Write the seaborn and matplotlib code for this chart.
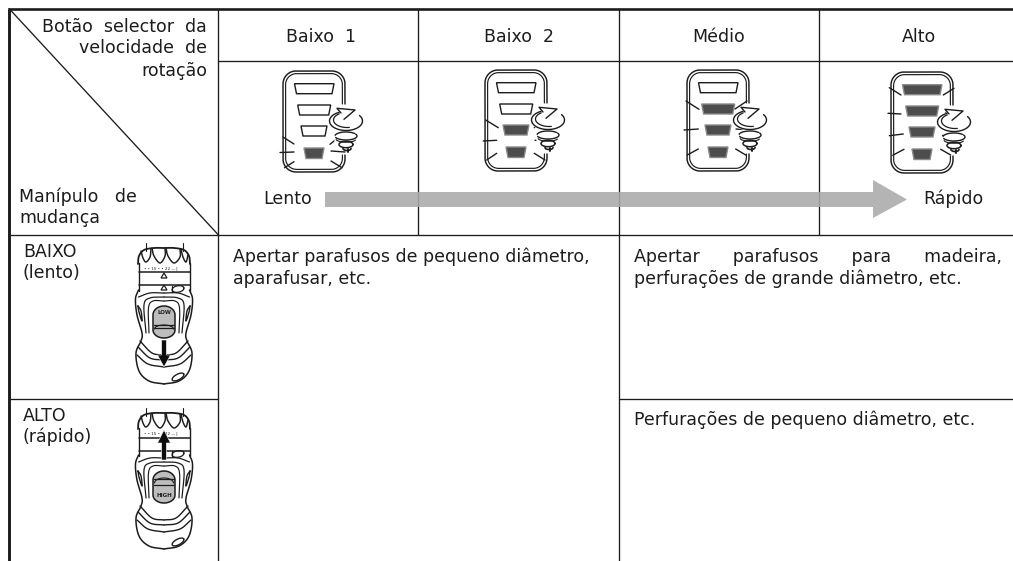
import numpy as np
import pandas as pd
import matplotlib
matplotlib.use("Agg")
import matplotlib.pyplot as plt
from matplotlib.patches import Polygon
import seaborn as sns

# ---- content -------------------------------------------------------------
speed_labels = ["Baixo  1", "Baixo  2", "Médio", "Alto"]
lit_bars = [1, 2, 3, 4]
corner_top = ["Botão  selector  da", "velocidade  de", "rotação"]
corner_bottom = ["Manípulo   de", "mudança"]
arrow_labels = ["Lento", "Rápido"]
gear_labels = [["BAIXO", "(lento)"], ["ALTO", "(rápido)"]]
gear_switch = ["LOW", "HIGH"]
use_left = ["Apertar parafusos de pequeno diâmetro,", "aparafusar, etc."]
use_low = ["Apertar      parafusos      para      madeira,", "perfurações de grande diâmetro, etc."]
use_high = ["Perfurações de pequeno diâmetro, etc."]

# ---- layout --------------------------------------------------------------
INK = "#1c1c1c"
FS = 12.5
sns.set_theme(style="white")
plt.rcParams["font.family"] = ["DejaVu Sans"]

fig = plt.figure(figsize=(10.13, 5.61), dpi=100)
ax = fig.add_axes([0, 0, 1, 1])

L, T, B, R = 9, 8.5, 561, 1013
X = [218, 418, 619, 819]
Y = [60.5, 234.5, 398.5]
thin = [((X[0], T), (X[0], B)), ((X[2], T), (X[2], B)),
        ((X[1], T), (X[1], Y[1])), ((X[3], T), (X[3], Y[1])),
        ((X[0], Y[0]), (R, Y[0])), ((L, Y[1]), (R, Y[1])),
        ((L, Y[2]), (X[0], Y[2])), ((X[2], Y[2]), (R, Y[2])),
        ((L, T), (X[0], Y[1]))]
rows = []
for i, (a, b) in enumerate(thin):
    rows += [dict(seg=i, x=a[0], y=a[1]), dict(seg=i, x=b[0], y=b[1])]
sns.lineplot(data=pd.DataFrame(rows), x="x", y="y", units="seg", estimator=None,
             color=INK, lw=0.95, ax=ax, legend=False, sort=False)
ax.plot([L, L], [T, B], color=INK, lw=2.1, solid_capstyle="butt")
ax.plot([L - 1, R], [T, T], color=INK, lw=1.9, solid_capstyle="butt")
ax.set_xlim(0, 1013)
ax.set_ylim(561, 0)
ax.axis("off")


def line(pts, lw=0.9, c=INK, z=3, **kw):
    p = np.asarray(pts, float)
    ax.plot(p[:, 0], p[:, 1], color=c, lw=lw, zorder=z, solid_capstyle="round",
            solid_joinstyle="round", **kw)


def arc(cx, cy, rx, ry, a0, a1, n=40, rot=0.0):
    t = np.radians(np.linspace(a0, a1, n))
    x, y = rx * np.cos(t), ry * np.sin(t)
    r = np.radians(rot)
    return np.c_[cx + x * np.cos(r) - y * np.sin(r), cy + x * np.sin(r) + y * np.cos(r)]


def smooth(pts, n=12):
    p = np.asarray(pts, float)
    p = np.vstack([2 * p[0] - p[1], p, 2 * p[-1] - p[-2]])
    out = []
    for i in range(1, len(p) - 2):
        for t in np.linspace(0, 1, n, endpoint=False):
            out.append(0.5 * ((2 * p[i]) + (p[i + 1] - p[i - 1]) * t
                              + (2 * p[i - 1] - 5 * p[i] + 4 * p[i + 1] - p[i + 2]) * t**2
                              + (3 * p[i] - p[i - 1] - 3 * p[i + 1] + p[i + 2]) * t**3))
    out.append(p[-2])
    return np.array(out)


def txt(x, y, s, ha="left", fs=FS, **kw):
    ax.text(x, y, s, ha=ha, va="baseline", fontsize=fs, color=INK, zorder=5, **kw)


# ---- LED icons -----------------------------------------------------------
BARS = [(11.5, 51, 12.7, 22.7), (14.7, 47.7, 34, 44), (18, 44, 55, 65), (21, 41, 77, 87.5)]
RAYS = {
    1: [((0, 66), (11, 73)), ((-3, 81.5), (11, 81)), ((1.5, 96.7), (11, 90.7)),
        ((47, 73.3), (55, 66.7)), ((48, 80), (62, 81)), ((48, 90), (59, 96.7))],
    2: [((0.7, 50), (13.3, 57.7)), ((49.3, 57.7), (58.3, 50)), ((-1.7, 71), (11.7, 70.3)),
        ((50, 70.3), (63.3, 71)), ((11.7, 83.3), (1.7, 90)), ((49.3, 83.3), (60, 90))],
    3: [((-1, 31), (12, 39.3)), ((48, 39), (60, 31)), ((-3, 60), (11.3, 59)),
        ((49, 59), (63, 60)), ((11.3, 79), (0.3, 85)), ((48.7, 79), (58.7, 85))],
    4: [((-1.7, 15.7), (10, 23)), ((52.3, 23), (63, 16.3)), ((-3, 41.3), (10, 42)),
        ((54, 39.7), (62, 39.7)), ((-1.7, 63.7), (12.3, 62)), ((50.7, 63), (64, 63)),
        ((13, 77.3), (1.7, 83.3)), ((49.7, 77.3), (59.7, 83))],
}
ICON_ORIGIN = [(283, 71), (485, 70), (687, 70), (891, 72)]


def frame(x0, y0, inset, r):
    w, h = 62 - inset, 101 - inset
    a = inset
    pts = np.vstack([
        [[w, 33]],
        arc(w - r, a + r, r, r, 0, -90),
        arc(a + r, a + r, r, r, -90, -180),
        arc(a + r, h - r, r, r, 180, 90),
        arc(w - r, h - r, r, r, 90, 0),
        [[w, 84]],
    ])
    return pts + [x0, y0]


def led_icon(x0, y0, lit):
    line(frame(x0, y0, 0, 13), lw=1.05)
    line(frame(x0, y0, 2.6, 11), lw=0.85)
    for i, (l, r, t, b) in enumerate(BARS):
        on = i >= 4 - lit
        ax.add_patch(Polygon([(x0 + l, y0 + t), (x0 + r, y0 + t), (x0 + r - 2, y0 + b), (x0 + l + 2, y0 + b)],
                             fc="#4d4d4d" if on else "white", ec="#8a8a8a" if on else INK,
                             lw=1.0, zorder=3.5))
    for a, b in RAYS[lit]:
        line([(x0 + a[0], y0 + a[1]), (x0 + b[0], y0 + b[1])], lw=1.0, z=3.6)
    # rotation symbol
    cx, cy = x0 + 63, y0 + 50
    ax.fill(*arc(cx, cy, 17, 10, 0, 360).T, color="white", zorder=3.7)
    line(arc(cx, cy, 16.5, 9.5, -35, 245), lw=1.0, z=3.8)
    line(arc(cx + 1, cy - 1, 13.5, 7.5, 80, 235), lw=0.9, z=3.8)
    ax.add_patch(Polygon([(cx - 9, cy - 12.7), (cx + 9, cy - 11), (cx - 2, cy - 1.7), (cx - 5, cy - 8)],
                         fc="white", ec="none", zorder=3.85))
    line([(cx - 5, cy - 8), (cx - 9, cy - 12.7), (cx + 9, cy - 11), (cx - 2, cy - 1.7)], lw=1.0, z=3.9)
    ax.fill(*arc(cx, cy + 19, 11, 10, 0, 360).T, color="white", zorder=3.7)
    line(arc(cx, cy + 15, 11, 4, -30, 160), lw=1.0, z=3.8)
    line(arc(cx, cy + 15, 11, 4, 190, 320), lw=1.0, z=3.8)
    line(arc(cx, cy + 18, 10, 3.2, 20, 170), lw=0.8, z=3.8)
    line(arc(cx, cy + 23.5, 7, 3.2, 0, 360), lw=1.1, z=3.8)
    line(arc(cx + 1, cy + 27.5, 4, 2, 0, 180), lw=1.2, z=3.8)
    line([(cx + 2, cy + 28), (cx + 2, cy + 31)], lw=1.4, z=3.8)


for (ox, oy), n in zip(ICON_ORIGIN, lit_bars):
    led_icon(ox, oy, n)

# ---- grey speed arrow -----------------------------------------------------
ax.add_patch(Polygon([(325, 192), (873, 192), (873, 180), (907, 199.5), (873, 218), (873, 207), (325, 207)],
                     fc="#aaaaaa", ec="none", alpha=0.88, zorder=2))


# ---- drill illustrations ---------------------------------------------------
def mirrored(cx, y0, pts, lw=0.85):
    s = smooth(pts)
    for sign in (-1, 1):
        line(np.c_[cx + sign * s[:, 0], y0 + s[:, 1]], lw=lw, z=3.2)


def drill(cx, y0, low):
    mirrored(cx, y0, [(18.5, 0), (18.5, 8)], lw=0.8)
    # chuck
    top = smooth([(-26, 21), (-25, 13), (-20, 7), (-10, 5), (0, 5), (10, 5), (20, 7), (25, 13), (26, 21)])
    line(top + [cx, y0], lw=1.3)
    for p in ([(-23, 8), (-21, 15), (-18, 19), (-14, 14), (-13, 6)],
              [(-12, 5), (-10, 13), (-4, 20), (1, 13), (1, 5)],
              [(2, 5), (4, 13), (10, 20), (16, 14), (16, 6)],
              [(17, 6), (19, 14), (22, 19), (24, 12)]):
        line(smooth(p) + [cx, y0], lw=1.05)
    # band
    mirrored(cx, y0, [(25.5, 20), (25.5, 48)], lw=1.0)
    ax.text(cx - 2, y0 + 27, "• • 15 • • 22 — ▏", ha="center", va="baseline", fontsize=3.0,
            color=INK, zorder=4)
    band = (29, 42) if low else (30, 43)
    for yy in band:
        line([(cx - 25.5, y0 + yy), (cx + 25.5, y0 + yy)], lw=1.1)
    if low:
        for yy in (35, 47):
            ax.add_patch(Polygon([(cx - 3, y0 + yy), (cx + 3, y0 + yy), (cx, y0 + yy - 5)],
                                 fc="white", ec=INK, lw=0.9, zorder=3.3))
    # lock knob on collar
    line(arc(cx + 14, y0 + 46, 6, 3.2, 0, 360, rot=-10), lw=0.9)
    line([(cx + 8, y0 + 43), (cx + 8, y0 + 49)], lw=0.9)
    # body
    mirrored(cx, y0, [(25.5, 47), (28.5, 56), (27, 72), (22, 90), (23, 98), (28, 110),
                      (25, 128), (15, 138), (0, 141)], lw=1.1)
    mirrored(cx, y0, [(0, 50), (14, 50), (25.5, 54)], lw=0.9)
    mirrored(cx, y0, [(0, 54), (14, 55), (20, 62), (18, 90)], lw=0.9)
    mirrored(cx, y0, [(0, 58), (11, 58), (15.5, 65), (15, 90)], lw=0.85)
    mirrored(cx, y0, [(26, 63), (23, 68), (22, 78), (25, 69), (26, 63)], lw=1.0)
    mirrored(cx, y0, [(0, 112), (12, 110), (24, 98)], lw=1.0)
    mirrored(cx, y0, [(0, 117), (14, 115), (26, 104)], lw=1.0)
    mirrored(cx, y0, [(0, 124), (16, 121), (27, 112)], lw=1.0)
    line(arc(cx + 14, y0 + 134, 6.5, 2.8, 0, 360, rot=-28), lw=1.0)
    # switch
    capsule = np.vstack([arc(cx, y0 + 72, 11, 9, 180, 360), arc(cx, y0 + 87, 11, 8, 0, 180)])
    ax.fill(capsule[:, 0], capsule[:, 1], fc="#bdbdbd", ec=INK, lw=1.1, zorder=3.5)
    if low:
        ax.text(cx, y0 + 71, gear_switch[0], ha="center", va="baseline", fontsize=4, weight="bold",
                color=INK, zorder=4)
        line(arc(cx, y0 + 86, 9.5, 4, 180, 360), lw=0.8, z=3.6)
        line([(cx - 10, y0 + 82), (cx + 10, y0 + 82)], lw=0.9, z=3.6)
        line([(cx - 10, y0 + 85), (cx + 10, y0 + 85)], lw=0.9, z=3.6)
        sh = [(cx - 2.4, y0 + 97), (cx + 2.4, y0 + 97), (cx + 2.4, y0 + 112), (cx + 6.5, y0 + 112),
              (cx, y0 + 124), (cx - 6.5, y0 + 112), (cx - 2.4, y0 + 112)]
    else:
        ax.text(cx, y0 + 89, gear_switch[1], ha="center", va="baseline", fontsize=4, weight="bold",
                color=INK, zorder=4)
        line(arc(cx, y0 + 75, 9.5, 5, 180, 360), lw=0.8, z=3.6)
        line([(cx - 10, y0 + 71), (cx + 10, y0 + 71)], lw=0.9, z=3.6)
        line([(cx - 10, y0 + 77), (cx + 10, y0 + 77)], lw=0.9, z=3.6)
        sh = [(cx - 2.4, y0 + 52), (cx + 2.4, y0 + 52), (cx + 2.4, y0 + 35), (cx + 6.5, y0 + 35),
              (cx, y0 + 22), (cx - 6.5, y0 + 35), (cx - 2.4, y0 + 35)]
    ax.add_patch(Polygon(sh, fc="#0d0d0d", ec="white", lw=0.4, zorder=4.5))


drill(164, 243, True)
drill(164, 408, False)

# ---- text ------------------------------------------------------------------
for y, s in zip([32, 53, 76], corner_top):
    txt(207, y, s, ha="right")
for y, s in zip([202, 223], corner_bottom):
    txt(19, y, s)
for cx, s in zip([321, 519, 719, 919], speed_labels):
    txt(cx, 42, s, ha="center")
txt(263, 204, arrow_labels[0])
txt(923, 204, arrow_labels[1])
for (y1, y2), (a, b) in zip([(257, 278), (421, 442)], gear_labels):
    txt(23, y1, a)
    txt(23, y2, b)
for y, s in zip([262, 284], use_left):
    txt(233, y, s)
for y, s in zip([262, 284], use_low):
    txt(634, y, s)
txt(634, 425, use_high[0])

fig.savefig("out.png", dpi=100)
